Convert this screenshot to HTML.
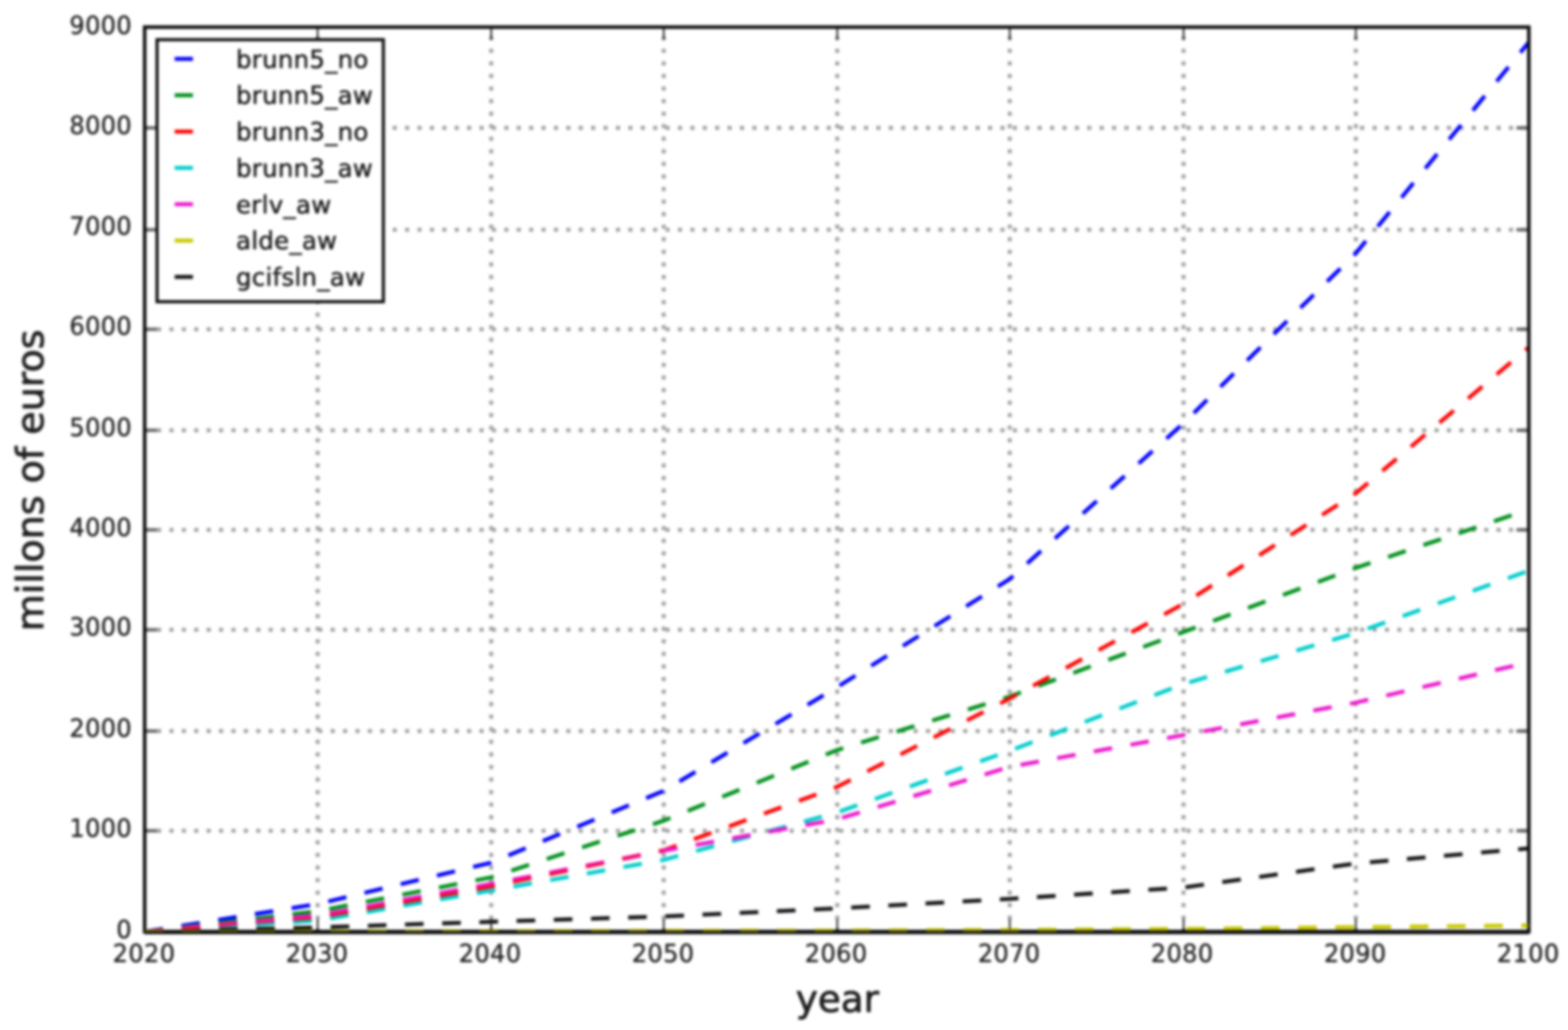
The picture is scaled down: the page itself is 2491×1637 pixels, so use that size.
<!DOCTYPE html>
<html lang="en"><head><meta charset="utf-8"><title>millons of euros per year</title>
<style>html,body{margin:0;padding:0;background:#fff}body{width:2491px;height:1637px;overflow:hidden}svg{display:block}text{font-family:'DejaVu Sans','Liberation Sans',sans-serif;fill:#202020}</style></head><body>
<svg width="2491" height="1637" viewBox="0 0 2491 1637">
<rect width="2491" height="1637" fill="#fff"/>
<defs><clipPath id="ax"><rect x="80" y="40" width="496" height="320"/></clipPath><filter id="soft" color-interpolation-filters="sRGB" x="0" y="0" width="2491" height="1637" filterUnits="userSpaceOnUse"><feGaussianBlur stdDeviation="2.00"/></filter></defs>
<g filter="url(#soft)">
<g transform="matrix(4.43347 0 0 4.49281 -124.878 -136.612)" fill="none">
<g stroke="#a0a0a0" stroke-width="1.400" stroke-dasharray="1.4500 2.9944">
<path d="M142.000 360.223V40"/>
<path d="M204.180 360.223V40"/>
<path d="M266.000 360.223V40"/>
<path d="M328.180 360.223V40"/>
<path d="M390.000 360.223V40"/>
<path d="M452.271 360.223V40"/>
<path d="M514.000 360.223V40"/>
<path d="M80 324.289H576"/>
<path d="M80 289.022H576"/>
<path d="M80 253.200H576"/>
<path d="M80 217.845H576"/>
<path d="M80 182.623H576"/>
<path d="M80 146.889H576"/>
<path d="M80 111.690H576"/>
<path d="M80 75.645H576"/>
</g>
<g clip-path="url(#ax)" stroke-width="1.400" stroke-dasharray="6.6667 6.6667">
<polyline stroke="#0000ff" points="80.000,360.000 142.000,350.187 204.000,335.609 266.000,310.151 328.000,273.564 390.000,235.236 452.000,180.373 514.000,120.000 576.000,45.333"/>
<polyline stroke="#008f1c" points="80.000,360.000 142.000,352.747 204.000,340.800 266.000,320.711 328.000,295.787 390.000,276.800 452.000,254.044 514.000,231.289 576.000,210.667"/>
<polyline stroke="#ff0000" points="80.000,360.000 142.000,355.093 204.000,344.000 266.000,331.200 328.000,308.800 390.000,277.511 452.000,244.160 514.000,204.907 576.000,153.244"/>
<polyline stroke="#00cccc" points="80.000,360.000 142.000,356.053 204.000,345.493 266.000,334.578 328.000,317.867 390.000,296.000 452.000,272.462 514.000,254.329 576.000,232.284"/>
<polyline stroke="#ec18cc" points="80.000,360.000 142.000,354.204 204.000,343.111 266.000,331.342 328.000,320.284 390.000,301.689 452.000,290.489 514.000,278.969 576.000,264.711"/>
<polyline stroke="#c8c800" points="80.000,360.000 142.000,359.929 204.000,359.858 266.000,359.751 328.000,359.644 390.000,359.431 452.000,359.040 514.000,358.400 576.000,357.796"/>
<polyline stroke="#141414" points="80.000,360.000 142.000,358.471 204.000,356.480 266.000,354.596 328.000,351.751 390.000,348.373 452.000,344.391 514.000,335.858 576.000,330.524"/>
</g>
<polyline clip-path="url(#ax)" stroke="#ff0000" stroke-opacity="0.4" stroke-width="1.400" stroke-dasharray="6.6667 6.6667" points="80.000,360.000 142.000,355.093 204.000,344.000 266.000,331.200"/>
<g stroke="#202020" stroke-width="0.600">
<path d="M142.000 360v-4.444"/>
<path d="M142.000 40v4.444"/>
<path d="M204.180 360v-4.444"/>
<path d="M204.180 40v4.444"/>
<path d="M266.000 360v-4.444"/>
<path d="M266.000 40v4.444"/>
<path d="M328.180 360v-4.444"/>
<path d="M328.180 40v4.444"/>
<path d="M390.000 360v-4.444"/>
<path d="M390.000 40v4.444"/>
<path d="M452.271 360v-4.444"/>
<path d="M452.271 40v4.444"/>
<path d="M514.000 360v-4.444"/>
<path d="M514.000 40v4.444"/>
</g>
<g stroke="#686868" stroke-width="1.200">
<path d="M80 324.289h4.444"/>
<path d="M576 324.289h-4.444"/>
<path d="M80 289.022h4.444"/>
<path d="M576 289.022h-4.444"/>
<path d="M80 253.200h4.444"/>
<path d="M576 253.200h-4.444"/>
<path d="M80 217.845h4.444"/>
<path d="M576 217.845h-4.444"/>
<path d="M80 182.623h4.444"/>
<path d="M576 182.623h-4.444"/>
<path d="M80 146.889h4.444"/>
<path d="M576 146.889h-4.444"/>
<path d="M80 111.690h4.444"/>
<path d="M576 111.690h-4.444"/>
<path d="M80 75.645h4.444"/>
<path d="M576 75.645h-4.444"/>
</g>
<rect x="80" y="40" width="496" height="320" stroke="#0c0c0c" stroke-width="1.250"/>
<path d="M80 360.08H576" stroke="#0c0c0c" stroke-width="1.55"/>
<polyline clip-path="url(#ax)" stroke="#c8c800" stroke-opacity="0.5" stroke-width="1.400" stroke-dasharray="6.6667 6.6667" points="80.000,360.000 142.000,359.929 204.000,359.858 266.000,359.751 328.000,359.644 390.000,359.431 452.000,359.040 514.000,358.400 576.000,357.796"/>
<rect x="84.444" y="44.444" width="81.087" height="92.689" fill="#fff" stroke="#0c0c0c" stroke-width="1.100"/>
<path d="M90.759 51.240h6.541" stroke="#0000ff" stroke-width="1.400"/>
<path d="M90.759 64.094h6.541" stroke="#008f1c" stroke-width="1.400"/>
<path d="M90.759 76.948h6.541" stroke="#ff0000" stroke-width="1.400"/>
<path d="M90.759 89.802h6.541" stroke="#00cccc" stroke-width="1.400"/>
<path d="M90.759 102.656h6.541" stroke="#ec18cc" stroke-width="1.400"/>
<path d="M90.759 115.510h6.541" stroke="#c8c800" stroke-width="1.400"/>
<path d="M90.759 128.363h6.541" stroke="#141414" stroke-width="1.400"/>
</g>
<g stroke="#202020" stroke-linejoin="round" letter-spacing="0.55">
<text transform="translate(228.80 1528.60) scale(1 1.0200)" font-size="38.20" text-anchor="middle" stroke-width="0.50">2020</text>
<text transform="translate(503.68 1528.60) scale(1 1.0200)" font-size="38.20" text-anchor="middle" stroke-width="0.50">2030</text>
<text transform="translate(778.55 1528.60) scale(1 1.0200)" font-size="38.20" text-anchor="middle" stroke-width="0.50">2040</text>
<text transform="translate(1053.43 1528.60) scale(1 1.0200)" font-size="38.20" text-anchor="middle" stroke-width="0.50">2050</text>
<text transform="translate(1328.30 1528.60) scale(1 1.0200)" font-size="38.20" text-anchor="middle" stroke-width="0.50">2060</text>
<text transform="translate(1603.18 1528.60) scale(1 1.0200)" font-size="38.20" text-anchor="middle" stroke-width="0.50">2070</text>
<text transform="translate(1878.05 1528.60) scale(1 1.0200)" font-size="38.20" text-anchor="middle" stroke-width="0.50">2080</text>
<text transform="translate(2152.93 1528.60) scale(1 1.0200)" font-size="38.20" text-anchor="middle" stroke-width="0.50">2090</text>
<text transform="translate(2427.80 1528.60) scale(1 1.0200)" font-size="38.20" text-anchor="middle" stroke-width="0.50">2100</text>
<text transform="translate(209.70 1491.30) scale(1 1.0200)" font-size="38.20" text-anchor="end" stroke-width="0.50">0</text>
<text transform="translate(209.70 1330.25) scale(1 1.0200)" font-size="38.20" text-anchor="end" stroke-width="0.50">1000</text>
<text transform="translate(209.70 1171.31) scale(1 1.0200)" font-size="38.20" text-anchor="end" stroke-width="0.50">2000</text>
<text transform="translate(209.70 1010.07) scale(1 1.0200)" font-size="38.20" text-anchor="end" stroke-width="0.50">3000</text>
<text transform="translate(209.70 851.72) scale(1 1.0200)" font-size="38.20" text-anchor="end" stroke-width="0.50">4000</text>
<text transform="translate(209.70 692.58) scale(1 1.0200)" font-size="38.20" text-anchor="end" stroke-width="0.50">5000</text>
<text transform="translate(209.70 531.83) scale(1 1.0200)" font-size="38.20" text-anchor="end" stroke-width="0.50">6000</text>
<text transform="translate(209.70 372.59) scale(1 1.0200)" font-size="38.20" text-anchor="end" stroke-width="0.50">7000</text>
<text transform="translate(209.70 213.34) scale(1 1.0200)" font-size="38.20" text-anchor="end" stroke-width="0.50">8000</text>
<text transform="translate(209.70 53.60) scale(1 1.0200)" font-size="38.20" text-anchor="end" stroke-width="0.50">9000</text>
</g>
<g stroke-linejoin="round">
<text transform="translate(1330.30 1607.80) scale(1 1.0000)" font-size="59.20" text-anchor="middle" stroke-width="1.00" fill="#000000" stroke="#000000">year</text>
<text transform="translate(68.50 763.40) rotate(-90) scale(1 1.0000)" font-size="59.20" text-anchor="middle" stroke-width="1.00" textLength="479.60" lengthAdjust="spacingAndGlyphs" fill="#000000" stroke="#000000">millons of euros</text>
</g>
<g stroke="#202020" stroke-linejoin="round" letter-spacing="0.55">
<text transform="translate(375.00 107.60) scale(1 1.0200)" font-size="38.60" text-anchor="start" stroke-width="0.70" fill="#050505" stroke="#050505">brunn5_no</text>
<text transform="translate(375.00 165.35) scale(1 1.0200)" font-size="38.60" text-anchor="start" stroke-width="0.70" fill="#050505" stroke="#050505">brunn5_aw</text>
<text transform="translate(375.00 223.10) scale(1 1.0200)" font-size="38.60" text-anchor="start" stroke-width="0.70" fill="#050505" stroke="#050505">brunn3_no</text>
<text transform="translate(375.00 280.85) scale(1 1.0200)" font-size="38.60" text-anchor="start" stroke-width="0.70" fill="#050505" stroke="#050505">brunn3_aw</text>
<text transform="translate(375.00 338.60) scale(1 1.0200)" font-size="38.60" text-anchor="start" stroke-width="0.70" fill="#050505" stroke="#050505">erlv_aw</text>
<text transform="translate(375.00 396.35) scale(1 1.0200)" font-size="38.60" text-anchor="start" stroke-width="0.70" fill="#050505" stroke="#050505">alde_aw</text>
<text transform="translate(375.00 454.10) scale(1 1.0200)" font-size="38.60" text-anchor="start" stroke-width="0.70" fill="#050505" stroke="#050505">gcifsln_aw</text>
</g>
</g>
</svg></body></html>
